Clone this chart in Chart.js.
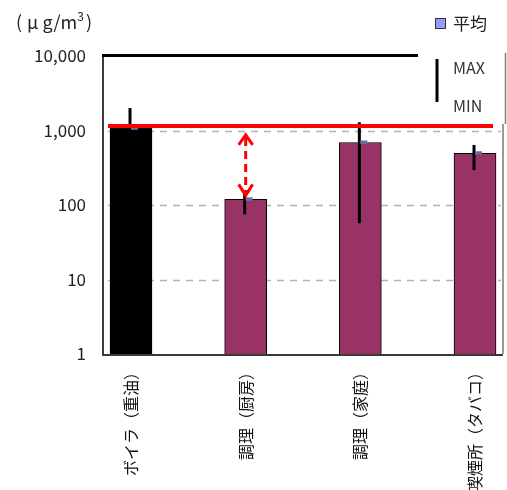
<!DOCTYPE html>
<html><head><meta charset="utf-8">
<script src="https://cdn.jsdelivr.net/npm/chart.js@4.4.1/dist/chart.umd.min.js"></script>
<style>html,body{margin:0;padding:0;background:#fff;}#wrap{width:507px;height:490px;position:relative;}</style>
</head><body><div id="wrap"><canvas id="c" width="507" height="490"></canvas></div>
<script>
// Concentration by source (μg/m3), log scale
const categories = ['ボイラ（重油）', '調理（厨房）', '調理（家庭）', '喫煙所（タバコ）'];
const meanValues = [1070, 119, 690, 495];
const maxValues  = [2000, 140, 1290, 640];
const minValues  = [1070, 75, 57, 295];
const barColors  = ['#000000', '#993366', '#993366', '#993366'];
const referenceLevel = 1150;
const yTicks = [1, 10, 100, 1000, 10000];
const gridValues = [10, 100, 1000];
const arrowCategory = 1;

const JP = '"Noto Sans CJK JP", "Noto Sans", sans-serif';

const overlay = {
  id: 'overlay',
  beforeDatasetsDraw(chart) {
    const {ctx, chartArea: a, scales: {y}} = chart;
    ctx.save();
    ctx.strokeStyle = '#b4b4b4';
    ctx.lineWidth = 1.5;
    ctx.setLineDash([7, 6]);
    gridValues.forEach(v => {
      const py = Math.round(y.getPixelForValue(v)) + 0.5;
      ctx.beginPath(); ctx.moveTo(a.left + 6, py); ctx.lineTo(a.right - 2, py); ctx.stroke();
    });
    ctx.restore();
  },
  afterDatasetsDraw(chart) {
    const {ctx, chartArea: a, scales: {x, y}} = chart;
    ctx.save();
    // MAX-MIN bars
    categories.forEach((c, i) => {
      const px = x.getPixelForValue(i) - 1;
      ctx.strokeStyle = '#000'; ctx.lineWidth = 3; ctx.setLineDash([]);
      ctx.beginPath();
      ctx.moveTo(px, y.getPixelForValue(maxValues[i]));
      ctx.lineTo(px, y.getPixelForValue(minValues[i]));
      ctx.stroke();
    });
    // mean markers
    categories.forEach((c, i) => {
      const px = x.getPixelForValue(i);
      const py = y.getPixelForValue(meanValues[i]);
      ctx.fillStyle = '#6b6b9c';
      ctx.fillRect(px, py - 2, 7, 3.5);
    });
    // reference level
    const ry = y.getPixelForValue(referenceLevel);
    ctx.strokeStyle = '#ff0000'; ctx.lineWidth = 4;
    ctx.beginPath(); ctx.moveTo(a.left + 6, ry); ctx.lineTo(a.right - 10, ry); ctx.stroke();
    // double arrow between reference level and the kitchen mean
    const ax = x.getPixelForValue(arrowCategory);
    const top = ry + 9;
    const bot = y.getPixelForValue(meanValues[arrowCategory]) - 4;
    ctx.lineWidth = 3; ctx.lineCap = 'butt';
    ctx.setLineDash([8, 5]);
    ctx.beginPath(); ctx.moveTo(ax, top + 3); ctx.lineTo(ax, bot - 3); ctx.stroke();
    ctx.setLineDash([]);
    ctx.beginPath();
    ctx.moveTo(ax - 7, top + 10); ctx.lineTo(ax, top); ctx.lineTo(ax + 7, top + 10);
    ctx.moveTo(ax - 7, bot - 11); ctx.lineTo(ax, bot); ctx.lineTo(ax + 7, bot - 11);
    ctx.stroke();
    // frame
    ctx.strokeStyle = '#9a9a9a'; ctx.lineWidth = 2;
    ctx.beginPath(); ctx.moveTo(a.right, a.top); ctx.lineTo(a.right, a.bottom); ctx.stroke();
    ctx.strokeStyle = '#3a3a3a';
    ctx.beginPath(); ctx.moveTo(a.left + 1, a.top); ctx.lineTo(a.left + 1, a.bottom + 1); ctx.lineTo(a.right, a.bottom + 1); ctx.stroke();
    ctx.strokeStyle = '#000'; ctx.lineWidth = 3;
    ctx.beginPath(); ctx.moveTo(a.left, a.top - 0.5); ctx.lineTo(a.right, a.top - 0.5); ctx.stroke();
    // legend
    ctx.fillStyle = '#fff';
    ctx.fillRect(418, 35, 89, 89);
    ctx.strokeStyle = '#7a7a7a'; ctx.lineWidth = 1.5;
    ctx.beginPath(); ctx.moveTo(505.5, 53); ctx.lineTo(505.5, 124); ctx.stroke();
    ctx.fillStyle = '#9999ff'; ctx.strokeStyle = '#333'; ctx.lineWidth = 1;
    ctx.fillRect(435.5, 18.5, 10, 10); ctx.strokeRect(435.5, 18.5, 10, 10);
    ctx.fillStyle = '#222'; ctx.textBaseline = 'middle'; ctx.textAlign = 'left';
    ctx.font = '17px ' + JP;
    ctx.fillText('平均', 453, 24);
    ctx.strokeStyle = '#000'; ctx.lineWidth = 3;
    ctx.beginPath(); ctx.moveTo(437, 59); ctx.lineTo(437, 102); ctx.stroke();
    ctx.fillStyle = '#333';
    ctx.font = '16px ' + JP;
    ctx.fillText('MAX', 453, 68);
    ctx.fillText('MIN', 453, 106);
    // unit
    ctx.fillStyle = '#222';
    ctx.textBaseline = 'alphabetic';
    let tx = 16;
    const part = (s, f, dy) => { ctx.font = f; ctx.fillText(s, tx, 29 + dy); tx += ctx.measureText(s).width; };
    part('(', '18px ' + JP, 0); tx += 5;
    part('μ', '18px ' + JP, 0); tx += 4;
    part('g/m', '18px ' + JP, 0);
    part('3', '12px ' + JP, -8); tx += 2;
    part(')', '18px ' + JP, 0);
    ctx.restore();
  }
};

new Chart(document.getElementById('c'), {
  type: 'bar',
  data: {
    datasets: [{
      data: categories.map((c, i) => ({x: i, y: meanValues[i]})),
      backgroundColor: barColors,
      borderColor: '#000',
      borderWidth: 1,
      barThickness: 42,
      borderSkipped: 'bottom'
    }]
  },
  options: {
    responsive: false,
    animation: false,
    events: [],
    layout: {padding: {top: 56, right: 4, left: 0, bottom: 0}},
    plugins: {legend: {display: false}, tooltip: {enabled: false}},
    scales: {
      x: {
        type: 'linear',
        offset: false,
        min: -0.253, max: 3.244,
        grid: {display: false, offset: false}, border: {display: false},
        afterBuildTicks: s => { s.ticks = categories.map((c, i) => ({value: i})); },
        afterFit: s => { s.height = 136; },
        ticks: {
          autoSkip: false, minRotation: 90, maxRotation: 90, padding: 2,
          color: '#111', font: {family: JP, size: 16},
          callback: v => categories[v]
        }
      },
      y: {
        type: 'logarithmic',
        min: 1, max: 10000,
        grid: {display: false}, border: {display: false},
        afterBuildTicks: s => { s.ticks = yTicks.map(v => ({value: v})); },
        afterFit: s => { s.width = 102; },
        ticks: {
          padding: 8, color: '#222', font: {family: JP, size: 17},
          callback: v => v.toLocaleString('en-US')
        }
      }
    }
  },
  plugins: [overlay]
});
</script></body></html>
